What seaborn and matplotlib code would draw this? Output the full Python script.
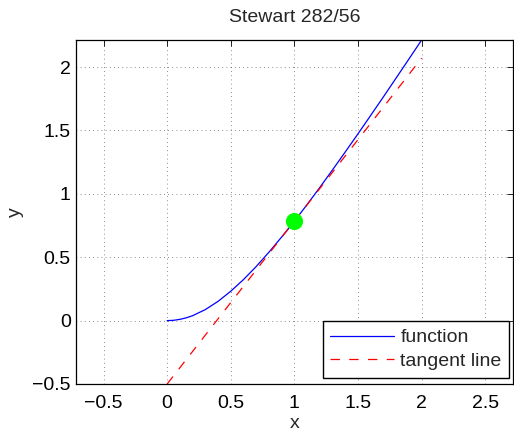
import matplotlib
matplotlib.use("Agg")
import matplotlib.pyplot as plt
import seaborn as sns
import pandas as pd

# values
x_func = [0.0, 0.05, 0.1, 0.15, 0.2, 0.3, 0.4, 0.5, 0.6, 0.7, 0.8, 0.9, 1.0,
          1.1, 1.2, 1.3, 1.4, 1.5, 1.6, 1.7, 1.8, 1.9, 2.0]
y_func = [0.0, 0.0025, 0.01, 0.022, 0.039, 0.087, 0.152, 0.232, 0.324, 0.427, 0.540, 0.660, 0.785,
          0.916, 1.051, 1.190, 1.331, 1.474, 1.620, 1.766, 1.915, 2.064, 2.214]
x_tan = [0.0, 2.0]
y_tan = [-0.5, 2.071]
point_x = [1.0]
point_y = [0.785]

xticks = [-0.5, 0, 0.5, 1, 1.5, 2, 2.5]
yticks = [-0.5, 0, 0.5, 1, 1.5, 2]
xticklabels = ["\u22120.5", "0", "0.5", "1", "1.5", "2", "2.5"]
yticklabels = ["\u22120.5", "0", "0.5", "1", "1.5", "2"]

sns.set_style("white")
plt.rcParams['font.family'] = ['Liberation Sans', 'DejaVu Sans']

df_func = pd.DataFrame({"x": x_func, "y": y_func})
df_tan = pd.DataFrame({"x": x_tan, "y": y_tan})

fig = plt.figure(figsize=(5.14, 4.33), dpi=100)
ax = fig.add_axes([76.3 / 514, 1 - 384 / 433, (512.5 - 76.3) / 514, (384 - 40) / 433])

sns.lineplot(data=df_func, x="x", y="y", ax=ax, color="blue", lw=0.9, label="function")
sns.lineplot(data=df_tan, x="x", y="y", ax=ax, color="red", lw=0.9,
             linestyle=(0, (7.5, 7.5)), label="tangent line")
sns.scatterplot(x=point_x, y=point_y, ax=ax, color="#00ff00", s=130,
                edgecolor="#00ff00", zorder=5, legend=False)

ax.set_xlim(-0.714, 2.714)
ax.set_ylim(-0.5, 2.214)
ax.set_xticks(xticks)
ax.set_xticklabels(xticklabels)
ax.set_yticks(yticks)
ax.set_yticklabels(yticklabels)
ax.tick_params(direction="in", length=4, width=0.6, top=True, right=True,
               labelsize=14, colors="black")
ax.tick_params(axis="x", pad=8)
ax.tick_params(axis="y", pad=4)
ax.grid(True, linestyle=(0, (1, 4)), color="black", lw=0.6, alpha=0.6)
for sp in ax.spines.values():
    sp.set_visible(True)
    sp.set_color("black")
    sp.set_linewidth(0.9)

ax.set_xlabel("x", fontsize=14, labelpad=2)
ax.set_ylabel("y", fontsize=14, labelpad=6)
ax.set_title("Stewart 282/56", fontsize=14, pad=13)

leg = ax.legend(loc="lower right", bbox_to_anchor=(0.9927, 0.0183), fontsize=14,
                fancybox=False, framealpha=1, edgecolor="black", handlelength=3.3,
                borderaxespad=0, borderpad=0.4, labelspacing=0.3, handletextpad=0.3)
leg.get_frame().set_linewidth(1.0)

fig.savefig("out.png", dpi=100)
